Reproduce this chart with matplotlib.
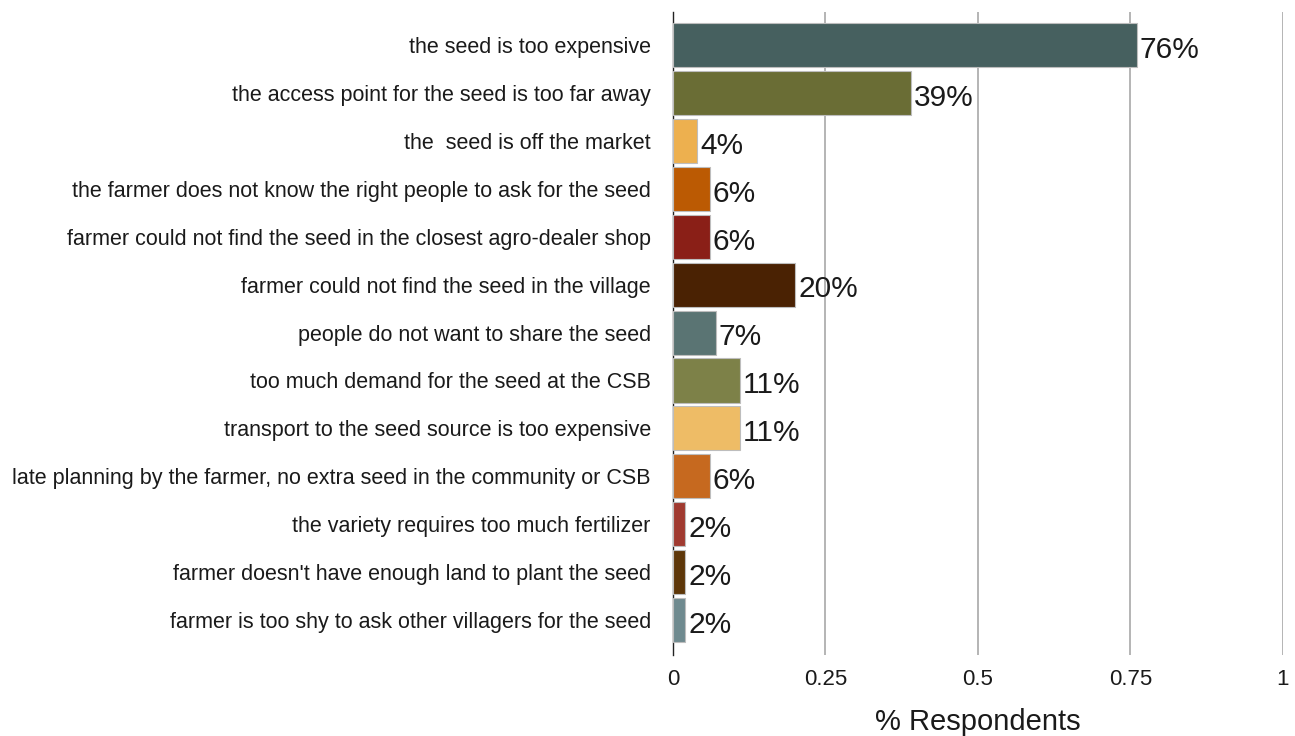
import matplotlib
matplotlib.use("Agg")
import matplotlib.pyplot as plt

plt.rcParams["font.family"] = ["Liberation Sans", "DejaVu Sans"]

# Data
reasons = [
    "the seed is too expensive",
    "the access point for the seed is too far away",
    "the  seed is off the market",
    "the farmer does not know the right people to ask for the seed",
    "farmer could not find the seed in the closest agro-dealer shop",
    "farmer could not find the seed in the village",
    "people do not want to share the seed",
    "too much demand for the seed at the CSB",
    "transport to the seed source is too expensive",
    "late planning by the farmer, no extra seed in the community or CSB",
    "the variety requires too much fertilizer",
    "farmer doesn't have enough land to plant the seed",
    "farmer is too shy to ask other villagers for the seed",
]
share = [0.76, 0.39, 0.04, 0.06, 0.06, 0.20, 0.07, 0.11, 0.11, 0.06, 0.02, 0.02, 0.02]
colors = [
    "#46605f", "#6a6d35", "#edb04f", "#bb5a03", "#8a1f17", "#4a2203",
    "#5a7473", "#7d8148", "#eebc66", "#c6691f", "#a03a30", "#5e3709", "#6f8a8f",
]
xticks = [0, 0.25, 0.5, 0.75, 1]
xtick_labels = ["0", "0.25", "0.5", "0.75", "1"]

fig = plt.figure(figsize=(12.95, 7.36), dpi=100)
ax = fig.add_axes([0.5197, 0.110, 0.471, 0.8737])

ypos = range(len(reasons))
ax.barh(ypos, share, height=0.92, color=colors, edgecolor="#bdbdbd",
        linewidth=0.8, zorder=3)

for y, v in zip(ypos, share):
    ax.text(v + 0.005, y + 0.1, f"{round(v * 100)}%", va="center", ha="left",
            fontsize=21.5, color="#1a1a1a", zorder=4)

ax.set_yticks(list(ypos))
ax.set_yticklabels(reasons, fontsize=15.5, color="#1a1a1a")
ax.set_ylim(len(reasons) - 1 + 0.73, -0.69)
ax.set_xlim(0, 1)
ax.set_xticks(xticks)
ax.set_xticklabels(xtick_labels, fontsize=16, color="#1a1a1a")
ax.tick_params(axis="y", length=0, pad=16)
ax.tick_params(axis="x", length=0, pad=10)

ax.grid(axis="x", color="#a8a8a8", linewidth=1.2, zorder=0)
ax.grid(axis="y", visible=False)
for side in ["top", "right", "bottom"]:
    ax.spines[side].set_visible(False)
ax.spines["left"].set_color("#222222")
ax.spines["left"].set_linewidth(1.0)

ax.set_xlabel("% Respondents", fontsize=21, color="#1a1a1a", labelpad=13)

fig.savefig("out.png", dpi=100)
